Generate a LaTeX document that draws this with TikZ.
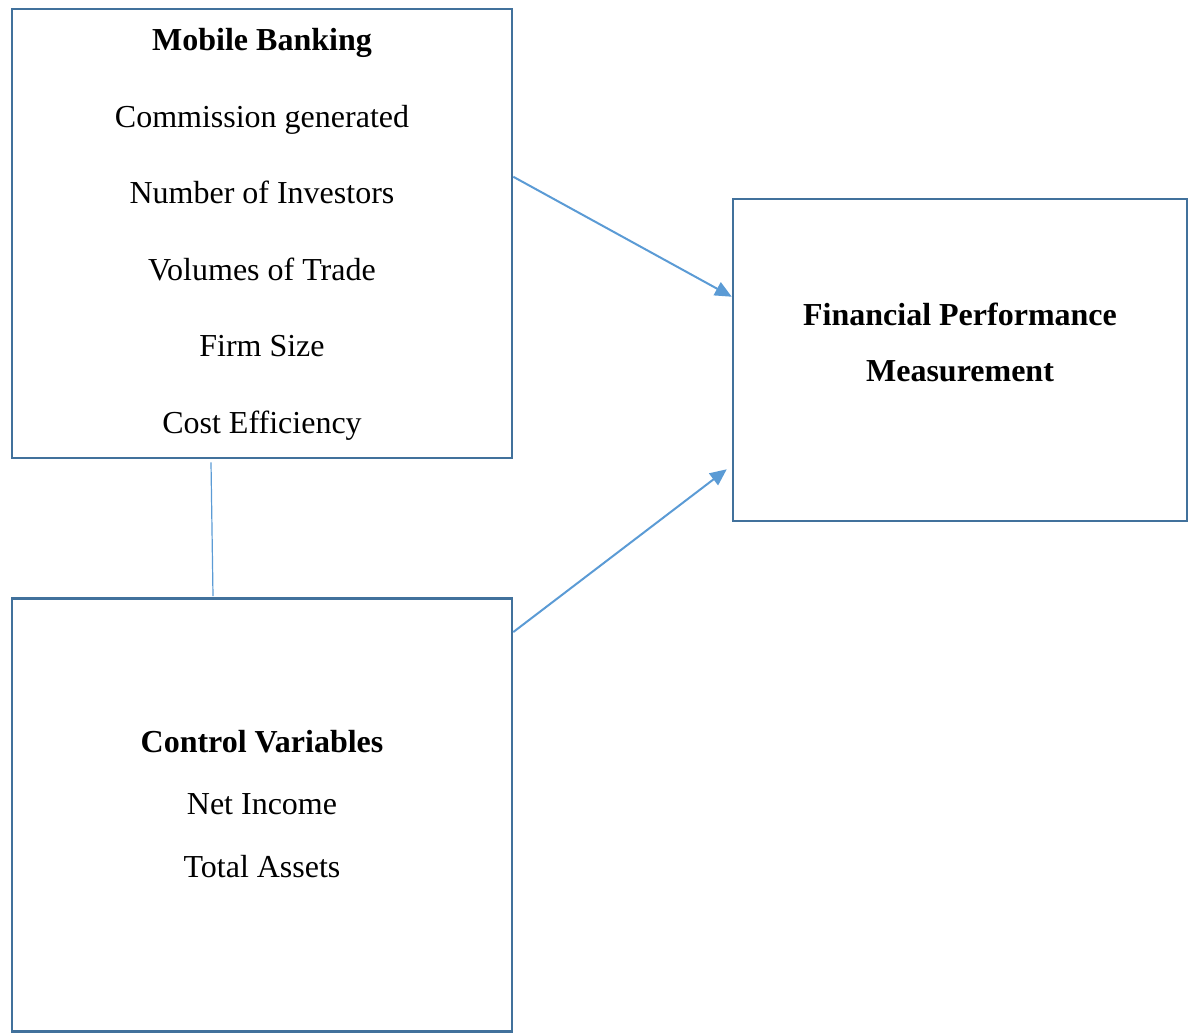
\documentclass[tikz,border=0pt]{standalone}
\usepackage{fontspec}
\setmainfont{Liberation Serif}
\usepackage{tikz}
\usetikzlibrary{arrows.meta,calc,positioning}
\definecolor{boxblue}{HTML}{41719C}
\definecolor{lineblue}{HTML}{5B9BD5}

\begin{document}
\begin{tikzpicture}[x=0.75pt,y=-0.75pt,>={Triangle[length=12.5pt,width=11pt]},
                    font=\fontsize{24}{28}\selectfont]
  \tikzstyle{box}=[rectangle,draw=boxblue,line width=1.9pt,fill=white,inner sep=0pt]
  \tikzstyle{link}=[draw=lineblue,line width=1.5pt]
  \tikzstyle{words}=[align=center,inner sep=0pt]

  \useasboundingbox (0,0) rectangle (1189,1032);

  \node[box,minimum width=375pt,minimum height=336.75pt] (MB) at (262,233.5) {};
  \node[box,minimum width=375pt,minimum height=325pt]    (CV) at (262,815)   {};
  \node[box,minimum width=340.5pt,minimum height=241.5pt] (FP) at (960,360)  {};

  \node[words] (MBtext) at (262,234.5)
    {\textbf{Mobile Banking}\\[29.4pt] Commission generated\\[29.4pt] Number of Investors\\[29.4pt]
     Volumes of Trade\\[29.4pt] Firm Size\\[29.4pt] Cost Efficiency};
  \node[words] (CVtext) at (262,804)
    {\textbf{Control Variables}\\[19pt] Net Income\\[19pt] Total Assets};
  \node[words] (FPtext) at (960,342)
    {\textbf{Financial Performance}\\[14pt] \textbf{Measurement}};

  \coordinate (MBout) at ($(MB.north east)+(0,169)$);
  \coordinate (CVout) at ($(CV.north east)+(0,35)$);
  \coordinate (FPin1) at ($(FP.north west)+(0,99)$);
  \coordinate (FPin2) at ($(FP.south west)+(-5,-53)$);
  \coordinate (MBlow) at ($(MB.south)+(-51,3)$);
  \coordinate (CVtop) at ($(CV.north)+(-49,-1)$);

  \draw[link,->] (MBout) -- (FPin1);
  \draw[link,->] (CVout) -- (FPin2);
  \draw[draw=lineblue,line width=0.9pt] (MBlow) -- (CVtop);
\end{tikzpicture}
\end{document}
